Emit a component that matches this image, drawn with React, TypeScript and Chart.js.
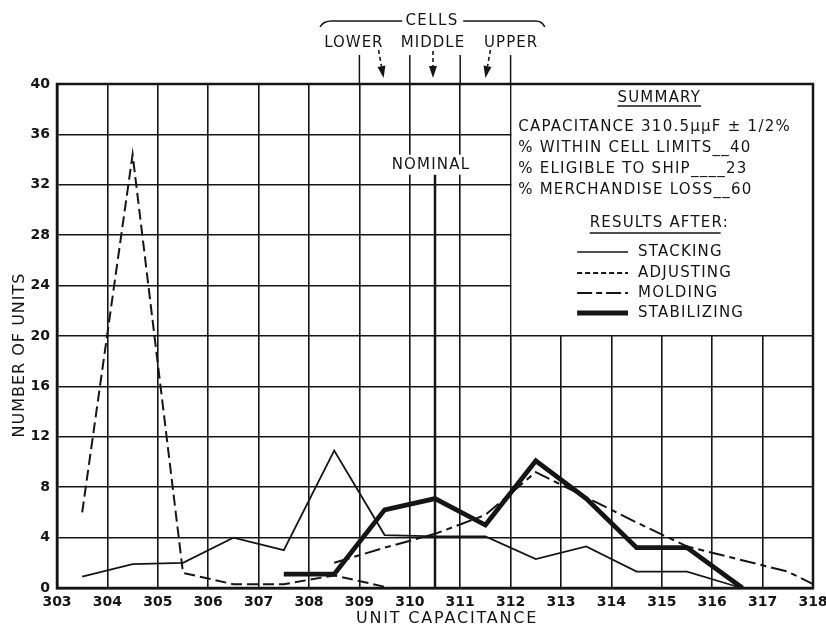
import React, { useEffect, useRef } from "react";
import { Chart, registerables } from "chart.js";

Chart.register(...registerables);

const INK = "#151515";
const FONT = "'DejaVu Sans', sans-serif";

// ---- data ----
const xMin = 303;
const xMax = 318;
const yMin = 0;
const yMax = 40;
const yStep = 4;

const stackingX = [303.5, 304.5, 305.5, 306.5, 307.5, 308.5, 309.5, 310.5, 311.5, 312.5, 313.5, 314.5, 315.5, 316.5];
const stackingY = [0.9, 1.9, 2.0, 4.0, 3.0, 10.9, 4.2, 4.1, 4.1, 2.3, 3.3, 1.3, 1.3, 0.1];

const adjustingX = [303.5, 304.5, 305.5, 306.5, 307.5, 308.5, 309.5];
const adjustingY = [6.0, 34.4, 1.2, 0.3, 0.3, 1.0, 0.1];

const moldingX = [308.5, 309.5, 310.5, 311.5, 312.5, 313.5, 314.5, 315.5, 316.5, 317.5, 318];
const moldingY = [2.0, 3.2, 4.3, 5.8, 9.2, 7.2, 5.2, 3.3, 2.3, 1.3, 0.3];

const stabilizingX = [307.5, 308.5, 309.5, 310.5, 311.5, 312.5, 313.5, 314.5, 315.5, 316.6];
const stabilizingY = [1.1, 1.1, 6.2, 7.1, 5.0, 10.1, 7.1, 3.2, 3.2, 0];

const nominalValue = 310.5;
const cellBounds = [309, 310, 311, 312];
const cellCenters = [309.5, 310.5, 311.5];
const cellLabels = ["LOWER", "MIDDLE", "UPPER"];
const cellLabelPos = [308.89, 310.46, 312.01];

const xTitle = "UNIT CAPACITANCE";
const yTitle = "NUMBER OF UNITS";
const summaryTitle = "SUMMARY";
const summaryLines = [
  "CAPACITANCE 310.5\u03bc\u03bcF \u00b1 1/2%",
  "% WITHIN CELL LIMITS__40",
  "% ELIGIBLE TO SHIP____23",
  "% MERCHANDISE LOSS__60",
];
const resultsTitle = "RESULTS AFTER:";
const seriesNames = ["STACKING", "ADJUSTING", "MOLDING", "STABILIZING"];
const seriesWidths = [1.8, 2, 2, 4.8];
const seriesDashes: number[][] = [[], [11, 5], [16, 5, 6, 5], []];
const legendDashes: number[][] = [[], [5, 3], [15, 4, 6, 4], []];
const legendWidths = [1.6, 2, 2, 5];

const toPoints = (xs: number[], ys: number[]) => xs.map((x, i) => ({ x, y: ys[i] }));

function txt(ctx: CanvasRenderingContext2D, s: string, x: number, y: number, align: CanvasTextAlign, size = 15, spacing = 1.2) {
  ctx.font = `${size}px ${FONT}`;
  (ctx as any).letterSpacing = `${spacing}px`;
  ctx.textAlign = align;
  ctx.textBaseline = "middle";
  ctx.fillStyle = INK;
  ctx.fillText(s, x, y);
  return ctx.measureText(s).width;
}

function arrow(ctx: CanvasRenderingContext2D, x1: number, y1: number, x2: number, y2: number) {
  const headLen = 12;
  const ang = Math.atan2(y2 - y1, x2 - x1);
  const bx = x2 - headLen * Math.cos(ang);
  const by = y2 - headLen * Math.sin(ang);
  ctx.save();
  ctx.lineWidth = 1.6;
  ctx.setLineDash([4, 3]);
  ctx.beginPath();
  ctx.moveTo(x1, y1);
  ctx.lineTo(bx, by);
  ctx.stroke();
  ctx.setLineDash([]);
  const w = 4;
  ctx.beginPath();
  ctx.moveTo(x2, y2);
  ctx.lineTo(bx + w * Math.sin(ang), by - w * Math.cos(ang));
  ctx.lineTo(bx - w * Math.sin(ang), by + w * Math.cos(ang));
  ctx.closePath();
  ctx.fillStyle = INK;
  ctx.fill();
  ctx.restore();
}

const decorPlugin = {
  id: "decor",
  beforeDatasetsDraw(chart: any) {
    const { ctx, chartArea: a } = chart;
    const xs = chart.scales.x;
    const ys = chart.scales.y;
    const px = (v: number) => xs.getPixelForValue(v);
    const py = (v: number) => ys.getPixelForValue(v);
    ctx.save();
    // summary box interior (grid removed)
    ctx.fillStyle = "#ffffff";
    ctx.fillRect(px(312) + 1, py(40) + 1, px(318) - px(312) - 2, py(20) - py(40) - 2);
    // frame
    ctx.strokeStyle = INK;
    ctx.lineWidth = 2.5;
    ctx.strokeRect(a.left, a.top, a.right - a.left, a.bottom - a.top);
    // nominal label with blank background
    ctx.font = `15px ${FONT}`;
    (ctx as any).letterSpacing = "1.2px";
    const nx = px(310.42);
    const ny = py(33.6);
    const w = ctx.measureText("NOMINAL").width;
    ctx.fillStyle = "#ffffff";
    ctx.fillRect(nx - w / 2 - 2, ny - 10, w + 4, 20);
    txt(ctx, "NOMINAL", nx, ny, "center", 15, 1.2);
    // nominal line
    ctx.strokeStyle = INK;
    ctx.lineWidth = 2.5;
    ctx.beginPath();
    ctx.moveTo(px(nominalValue), py(32.8));
    ctx.lineTo(px(nominalValue), py(0));
    ctx.stroke();
    ctx.restore();
  },
  afterDraw(chart: any) {
    const { ctx, chartArea: a } = chart;
    const xs = chart.scales.x;
    const px = (v: number) => xs.getPixelForValue(v);
    ctx.save();
    ctx.strokeStyle = INK;
    ctx.fillStyle = INK;

    // ---- summary box text ----
    const left = px(312.15);
    const cx = px(314.95);
    let w = txt(ctx, summaryTitle, cx, a.top + 14, "center", 15, 1.2);
    ctx.lineWidth = 1.4;
    ctx.beginPath();
    ctx.moveTo(cx - w / 2, a.top + 22);
    ctx.lineTo(cx + w / 2, a.top + 22);
    ctx.stroke();
    const lineYs = [43, 64, 85, 106];
    summaryLines.forEach((s, i) => txt(ctx, s, left, a.top + lineYs[i], "left", 15, 1.25));
    w = txt(ctx, resultsTitle, cx, a.top + 139, "center", 15, 1.2);
    ctx.font = `15px ${FONT}`;
    (ctx as any).letterSpacing = "1.2px";
    const wColon = ctx.measureText(":").width;
    ctx.beginPath();
    ctx.moveTo(cx - w / 2, a.top + 149);
    ctx.lineTo(cx + w / 2 - wColon - 2, a.top + 149);
    ctx.stroke();
    const legYs = [168, 189, 209, 229];
    const sx1 = px(313.32);
    const sx2 = px(314.33);
    const lx = px(314.53);
    seriesNames.forEach((s, i) => {
      const yy = a.top + legYs[i];
      ctx.save();
      ctx.lineWidth = legendWidths[i];
      ctx.setLineDash(legendDashes[i]);
      ctx.beginPath();
      ctx.moveTo(sx1, yy);
      ctx.lineTo(sx2, yy);
      ctx.stroke();
      ctx.restore();
      txt(ctx, s, lx, yy, "left", 15, 1.2);
    });

    // ---- cells annotation above the plot ----
    ctx.lineWidth = 1.5;
    cellBounds.forEach((v) => {
      ctx.beginPath();
      ctx.moveTo(px(v), 55);
      ctx.lineTo(px(v), a.top);
      ctx.stroke();
    });
    cellLabels.forEach((s, i) => txt(ctx, s, px(cellLabelPos[i]), 43, "center", 15, 1.0));
    arrow(ctx, px(cellCenters[0] - 0.12), 50, px(cellCenters[0] - 0.02), 78);
    arrow(ctx, px(cellCenters[1] - 0.04), 51, px(cellCenters[1] - 0.04), 78);
    arrow(ctx, px(cellCenters[2] + 0.1), 50, px(cellCenters[2]), 78);
    // bracket
    ctx.lineWidth = 1.5;
    ctx.beginPath();
    ctx.moveTo(px(308.22), 27);
    ctx.quadraticCurveTo(px(308.28), 21, px(308.45), 21);
    ctx.lineTo(px(309.85), 21);
    ctx.stroke();
    ctx.beginPath();
    ctx.moveTo(px(311.06), 21);
    ctx.lineTo(px(312.5), 21);
    ctx.quadraticCurveTo(px(312.62), 21, px(312.68), 27);
    ctx.stroke();
    txt(ctx, "CELLS", px(310.44), 21, "center", 15, 1.4);

    // ---- axis titles ----
    txt(ctx, xTitle, px(310.74), 619, "center", 16, 1.8);
    ctx.save();
    ctx.translate(20, 355);
    ctx.rotate(-Math.PI / 2);
    txt(ctx, yTitle, 0, 0, "center", 16, 1.0);
    ctx.restore();

    ctx.restore();
  },
};

export default function App() {
  const ref = useRef<HTMLCanvasElement | null>(null);

  useEffect(() => {
    if (!ref.current) return;
    const series = [
      toPoints(stackingX, stackingY),
      toPoints(adjustingX, adjustingY),
      toPoints(moldingX, moldingY),
      toPoints(stabilizingX, stabilizingY),
    ];
    const chart = new Chart(ref.current, {
      type: "line",
      data: {
        datasets: series.map((data, i) => ({
          label: seriesNames[i],
          data,
          borderColor: INK,
          backgroundColor: INK,
          borderWidth: seriesWidths[i],
          borderDash: seriesDashes[i],
          pointRadius: 0,
          tension: 0,
          fill: false,
          borderJoinStyle: "miter" as const,
        })),
      },
      options: {
        animation: false,
        responsive: false,
        devicePixelRatio: 1,
        layout: { padding: { top: 84, right: 13, left: 0, bottom: 0 } },
        plugins: { legend: { display: false }, tooltip: { enabled: false } },
        scales: {
          x: {
            type: "linear",
            min: xMin,
            max: xMax,
            ticks: { stepSize: 1, color: INK, font: { family: FONT, size: 14, weight: "bold" }, padding: 6, maxRotation: 0, autoSkip: false },
            grid: { color: INK, lineWidth: 1.6, drawTicks: false },
            border: { display: true, color: INK, width: 2.5 },
            afterFit: (s: any) => {
              s.height = 38;
              s.paddingLeft = 0;
              s.paddingRight = 0;
            },
          },
          y: {
            type: "linear",
            min: yMin,
            max: yMax,
            ticks: { stepSize: yStep, color: INK, font: { family: FONT, size: 14, weight: "bold" }, padding: 7 },
            grid: { color: INK, lineWidth: 1.6, drawTicks: false },
            border: { display: true, color: INK, width: 2.5 },
            afterFit: (s: any) => {
              s.width = 57;
            },
          },
        },
      },
      plugins: [decorPlugin],
    });
    return () => chart.destroy();
  }, []);

  return (
    <div style={{ position: "fixed", left: 0, top: 0, width: 826, height: 626, background: "#fff" }}>
      <canvas ref={ref} width={826} height={626} style={{ display: "block" }} />
    </div>
  );
}
